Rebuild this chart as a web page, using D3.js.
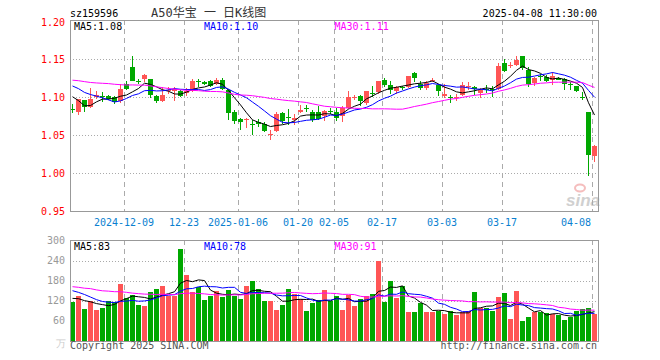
<!DOCTYPE html>
<html>
<head>
<meta charset="utf-8">
<script src="https://cdn.jsdelivr.net/npm/d3@7"></script>
<style>
  body { margin: 0; background: #fff; }
  text { font-family: "DejaVu Sans Mono", monospace; font-size: 10px; }
</style>
</head>
<body>
<svg id="chart" width="660" height="360"></svg>
<script>
// trading days shown
const dates = [
  '2024-11-26', '2024-11-27', '2024-11-28', '2024-11-29',
  '2024-12-02', '2024-12-03', '2024-12-04', '2024-12-05', '2024-12-06', '2024-12-09', '2024-12-10',
  '2024-12-11', '2024-12-12', '2024-12-13', '2024-12-16', '2024-12-17', '2024-12-18', '2024-12-19',
  '2024-12-20', '2024-12-23', '2024-12-24', '2024-12-25', '2024-12-26', '2024-12-27', '2024-12-30', '2024-12-31',
  '2025-01-02', '2025-01-03', '2025-01-06', '2025-01-07', '2025-01-08', '2025-01-09', '2025-01-10',
  '2025-01-13', '2025-01-14', '2025-01-15', '2025-01-16', '2025-01-17', '2025-01-20', '2025-01-21',
  '2025-01-22', '2025-01-23', '2025-01-24', '2025-01-27',
  '2025-02-05', '2025-02-06', '2025-02-07', '2025-02-10', '2025-02-11', '2025-02-12', '2025-02-13',
  '2025-02-14', '2025-02-17', '2025-02-18', '2025-02-19', '2025-02-20', '2025-02-21', '2025-02-24',
  '2025-02-25', '2025-02-26', '2025-02-27', '2025-02-28',
  '2025-03-03', '2025-03-04', '2025-03-05', '2025-03-06', '2025-03-07', '2025-03-10', '2025-03-11',
  '2025-03-12', '2025-03-13', '2025-03-14', '2025-03-17', '2025-03-18', '2025-03-19', '2025-03-20',
  '2025-03-21', '2025-03-24', '2025-03-25', '2025-03-26', '2025-03-27', '2025-03-28', '2025-03-31',
  '2025-04-01', '2025-04-02', '2025-04-03', '2025-04-07', '2025-04-08'
]

const opens = [
  1.084, 1.081, 1.097, 1.087, 1.100, 1.102, 1.102, 1.100, 1.095, 1.118,
  1.140, 1.121, 1.124, 1.124, 1.102, 1.095, 1.109, 1.108, 1.108, 1.105,
  1.108, 1.121, 1.120, 1.121, 1.118, 1.123, 1.110, 1.080, 1.072, 1.070,
  1.065, 1.067, 1.065, 1.051, 1.055, 1.079, 1.074, 1.070, 1.081, 1.086,
  1.081, 1.081, 1.076, 1.082, 1.081, 1.075, 1.086, 1.100, 1.102, 1.092,
  1.106, 1.106, 1.123, 1.116, 1.109, 1.114, 1.114, 1.132, 1.118, 1.113,
  1.122, 1.116, 1.101, 1.101, 1.100, 1.103, 1.114, 1.113, 1.106, 1.111,
  1.111, 1.111, 1.145, 1.142, 1.142, 1.154, 1.136, 1.119, 1.128, 1.127,
  1.123, 1.126, 1.124, 1.117, 1.115, 1.101, 1.080, 1.023
]
const highs = [
  1.091, 1.098, 1.097, 1.112, 1.108, 1.107, 1.103, 1.102, 1.118, 1.121,
  1.154, 1.124, 1.131, 1.124, 1.103, 1.113, 1.114, 1.114, 1.110, 1.112,
  1.124, 1.124, 1.121, 1.123, 1.125, 1.125, 1.111, 1.083, 1.073, 1.073,
  1.070, 1.071, 1.067, 1.057, 1.081, 1.080, 1.084, 1.078, 1.090, 1.090,
  1.083, 1.089, 1.083, 1.086, 1.086, 1.088, 1.108, 1.103, 1.103, 1.108,
  1.115, 1.121, 1.125, 1.122, 1.115, 1.115, 1.128, 1.134, 1.121, 1.121,
  1.125, 1.118, 1.117, 1.103, 1.105, 1.120, 1.120, 1.115, 1.112, 1.116,
  1.115, 1.145, 1.150, 1.146, 1.154, 1.154, 1.140, 1.127, 1.131, 1.129,
  1.134, 1.127, 1.125, 1.120, 1.115, 1.107, 1.080, 1.037
]
const lows = [
  1.079, 1.076, 1.081, 1.086, 1.098, 1.094, 1.096, 1.091, 1.093, 1.109,
  1.121, 1.117, 1.120, 1.099, 1.093, 1.094, 1.105, 1.095, 1.100, 1.102,
  1.107, 1.114, 1.116, 1.114, 1.116, 1.110, 1.070, 1.065, 1.057, 1.059,
  1.050, 1.061, 1.054, 1.044, 1.054, 1.065, 1.064, 1.064, 1.079, 1.081,
  1.067, 1.070, 1.069, 1.078, 1.069, 1.068, 1.085, 1.096, 1.089, 1.090,
  1.101, 1.105, 1.114, 1.104, 1.105, 1.109, 1.112, 1.120, 1.110, 1.110,
  1.120, 1.102, 1.099, 1.093, 1.095, 1.102, 1.110, 1.103, 1.099, 1.106,
  1.101, 1.110, 1.134, 1.138, 1.141, 1.136, 1.114, 1.115, 1.122, 1.120,
  1.116, 1.123, 1.110, 1.110, 1.107, 1.097, 0.996, 1.015
]
const closes = [
  1.083, 1.098, 1.088, 1.098, 1.103, 1.101, 1.098, 1.094, 1.111, 1.111,
  1.122, 1.120, 1.129, 1.103, 1.095, 1.103, 1.110, 1.111, 1.102, 1.108,
  1.121, 1.120, 1.117, 1.115, 1.123, 1.111, 1.080, 1.068, 1.068, 1.071,
  1.064, 1.064, 1.056, 1.052, 1.078, 1.069, 1.073, 1.073, 1.083, 1.085,
  1.070, 1.072, 1.082, 1.081, 1.073, 1.086, 1.100, 1.101, 1.095, 1.108,
  1.105, 1.121, 1.117, 1.109, 1.114, 1.113, 1.128, 1.125, 1.113, 1.119,
  1.123, 1.108, 1.104, 1.100, 1.101, 1.116, 1.115, 1.111, 1.110, 1.110,
  1.110, 1.141, 1.135, 1.143, 1.149, 1.138, 1.118, 1.126, 1.127, 1.122,
  1.128, 1.124, 1.117, 1.116, 1.108, 1.100, 1.023, 1.036
]
// volume, in 万手
const volumes = [
  115, 135, 96, 118, 93, 99, 119, 115, 171, 127,
  138, 108, 105, 147, 156, 165, 133, 133, 276, 196,
  147, 160, 123, 133, 150, 130, 153, 133, 126, 163,
  178, 156, 118, 120, 93, 106, 156, 140, 126, 90,
  112, 123, 153, 119, 133, 93, 137, 103, 126, 133,
  141, 238, 115, 178, 127, 165, 85, 85, 113, 85,
  85, 89, 79, 89, 76, 85, 89, 145, 99, 99,
  90, 130, 142, 66, 150, 60, 72, 85, 85, 82,
  79, 76, 61, 72, 90, 95, 99, 79
]
// the 29 sessions before the window, estimated back from where the MA lines start
const prevCloses = [
  1.118, 1.125, 1.132, 1.121, 1.115, 1.110, 1.120, 1.128, 1.124, 1.119,
  1.126, 1.131, 1.135, 1.129, 1.138, 1.142, 1.136, 1.130, 1.127, 1.122,
  1.133, 1.138, 1.126, 1.124, 1.1245, 1.124, 1.122, 1.096, 1.0789
]
const prevVolumes = [
  190, 175, 160, 205, 180, 150, 165, 170, 185, 210,
  155, 145, 160, 175, 150, 140, 165, 180, 155, 145,
  185, 160, 195, 170, 155, 140, 125, 135, 120
]

const tickDates = ['2024-12-09', '2024-12-23', '2025-01-06', '2025-01-20', '2025-02-05',
  '2025-02-17', '2025-03-03', '2025-03-17', '2025-04-08']
const tickLabels = ['2024-12-09', '12-23', '2025-01-06', '01-20', '02-05',
  '02-17', '03-03', '03-17', '04-08']
const priceTicks = [1.20, 1.15, 1.10, 1.05, 1.00, 0.95]
const volTicks = [300, 240, 180, 120, 60]
const maPeriods = [5, 10, 30]
const maColors = ['#000', '#00f', '#f0f']
const priceMaLabels = ['MA5:1.08', 'MA10:1.10', 'MA30:1.11']
const volMaLabels = ['MA5:83', 'MA10:78', 'MA30:91']

const RED = '#ff5555'
const GREEN = '#00a800'
const GRID = '#aaa'

const left = 70
const right = 598
const priceTop = 20
const priceBottom = 211
const volTop = 240
const volBottom = 341

const svg = d3.select('#chart')

const x = d3.scaleBand().domain(dates).range([69.5, 597.5])
const cx = d => x(d) + x.bandwidth() / 2
const bodyW = x.bandwidth() - 1
const y = d3.scaleLinear().domain([0.95, 1.20]).range([211, 21.5])
const yv = d3.scaleLinear().domain([0, 300]).range([340.7, 240.7])

const candles = dates.map((d, i) => ({
  date: d, open: opens[i], high: highs[i], low: lows[i], close: closes[i], vol: volumes[i],
  color: closes[i] >= opens[i] ? RED : GREEN
}))

function movingAvg (series, prev, n) {
  const all = prev.concat(series)
  return series.map((v, i) => {
    const end = prev.length + i + 1
    return d3.mean(all.slice(end - n, end))
  })
}

// gridlines
function hGrid (vals, scale) {
  svg.append('g').selectAll('line')
    .data(vals)
    .enter()
    .append('line')
    .attr('x1', left).attr('x2', right)
    .attr('y1', d => Math.round(scale(d)) + 0.5)
    .attr('y2', d => Math.round(scale(d)) + 0.5)
    .attr('stroke', GRID)
    .attr('stroke-dasharray', '1,2')
}
hGrid([1.15, 1.10, 1.05, 1.00], y)
hGrid([240, 180, 120, 60], yv)

const vGrid = svg.append('g')
;[[priceTop, priceBottom], [volTop, volBottom]].forEach(([t, b]) => {
  vGrid.append('g').selectAll('line')
    .data(tickDates)
    .enter()
    .append('line')
    .attr('x1', d => Math.round(x(d)) + 0.5)
    .attr('x2', d => Math.round(x(d)) + 0.5)
    .attr('y1', t).attr('y2', b)
    .attr('stroke', GRID)
    .attr('stroke-dasharray', '5,4')
})

// sina watermark
const mark = svg.append('g').attr('opacity', 0.55)
mark.append('ellipse').attr('cx', 580).attr('cy', 188).attr('rx', 5).attr('ry', 3.5)
  .attr('fill', 'none').attr('stroke', '#e88').attr('stroke-width', 2)
mark.append('text').attr('x', 566).attr('y', 206)
  .style('font-family', 'Liberation Sans, sans-serif').style('font-size', '17px')
  .style('font-style', 'italic').style('font-weight', 'bold')
  .attr('fill', '#aaa').text('sina')

// candles
const cg = svg.append('g').attr('shape-rendering', 'crispEdges')
cg.selectAll('line')
  .data(candles)
  .enter()
  .append('line')
  .attr('x1', d => Math.floor(cx(d.date)) + 0.5)
  .attr('x2', d => Math.floor(cx(d.date)) + 0.5)
  .attr('y1', d => y(d.high))
  .attr('y2', d => y(d.low))
  .attr('stroke', d => d.color)
cg.selectAll('rect')
  .data(candles)
  .enter()
  .append('rect')
  .attr('x', d => cx(d.date) - bodyW / 2)
  .attr('width', bodyW)
  .attr('y', d => Math.round(y(Math.max(d.open, d.close))))
  .attr('height', d => Math.max(1, Math.round(Math.abs(y(d.open) - y(d.close)))))
  .attr('fill', d => d.color)

// volume bars
svg.append('g').attr('shape-rendering', 'crispEdges')
  .selectAll('rect')
  .data(candles)
  .enter()
  .append('rect')
  .attr('x', d => cx(d.date) - bodyW / 2)
  .attr('width', bodyW)
  .attr('y', d => Math.round(yv(d.vol)))
  .attr('height', d => volBottom - Math.round(yv(d.vol)))
  .attr('fill', d => d.color)

// moving averages
maPeriods.forEach((n, k) => {
  const pm = movingAvg(closes, prevCloses, n)
  const vm = movingAvg(volumes, prevVolumes, n)
  svg.append('path')
    .attr('d', d3.line().x((v, i) => cx(dates[i])).y(v => y(v))(pm))
    .attr('fill', 'none').attr('stroke', maColors[k]).attr('stroke-width', 1)
  svg.append('path')
    .attr('d', d3.line().x((v, i) => cx(dates[i])).y(v => yv(v))(vm))
    .attr('fill', 'none').attr('stroke', maColors[k]).attr('stroke-width', 1)
})

// frames
;[[priceTop, priceBottom], [volTop, volBottom]].forEach(([t, b]) => {
  svg.append('rect')
    .attr('x', left + 0.5).attr('y', t + 0.5)
    .attr('width', right - left - 0.5).attr('height', b - t - 0.5)
    .attr('fill', 'none').attr('stroke', '#999')
    .attr('shape-rendering', 'crispEdges')
})

// axis labels
svg.append('g').selectAll('text')
  .data(priceTicks)
  .enter()
  .append('text')
  .attr('x', 65).attr('y', d => y(d) + 4)
  .attr('text-anchor', 'end').attr('fill', '#f00')
  .text(d3.format('.2f'))
svg.append('g').selectAll('text')
  .data(volTicks)
  .enter()
  .append('text')
  .attr('x', 65).attr('y', d => yv(d) + 3.5)
  .attr('text-anchor', 'end').attr('fill', '#999')
  .text(d => d)
svg.append('text').attr('x', 66).attr('y', 347).attr('text-anchor', 'end')
  .attr('fill', '#ccc').text('万')

svg.append('g').selectAll('text')
  .data(tickDates)
  .enter()
  .append('text')
  .attr('x', (d, i) => i === tickDates.length - 1 ? Math.round(x(d)) - 1 : Math.round(x(d)))
  .attr('y', 225.5)
  .attr('text-anchor', (d, i) => i === tickDates.length - 1 ? 'end' : 'middle')
  .attr('fill', '#0a7fd0')
  .text((d, i) => tickLabels[i])

// MA legends
const legendX = [74, 204, 334.5]
priceMaLabels.forEach((t, k) => {
  svg.append('text').attr('x', legendX[k]).attr('y', 29.5).attr('fill', maColors[k]).text(t)
})
volMaLabels.forEach((t, k) => {
  svg.append('text').attr('x', legendX[k]).attr('y', 249.5).attr('fill', maColors[k]).text(t)
})

// header and footer
svg.append('text').attr('x', 70).attr('y', 17).attr('fill', '#000').text('sz159596')
svg.append('text').attr('x', 151).attr('y', 17).attr('fill', '#333')
  .style('font-family', '"DejaVu Sans Mono", "Noto Sans CJK SC", monospace')
  .style('font-size', '12px')
  .text('A50华宝 一 日K线图')
svg.append('text').attr('x', 597).attr('y', 17).attr('text-anchor', 'end')
  .attr('fill', '#000').text('2025-04-08 11:30:00')
svg.append('text').attr('x', 70).attr('y', 349).attr('fill', '#555').text('Copyright 2025 SINA.COM')
svg.append('text').attr('x', 597).attr('y', 349).attr('text-anchor', 'end')
  .attr('fill', '#555').text('http://finance.sina.com.cn')
</script>
</body>
</html>
